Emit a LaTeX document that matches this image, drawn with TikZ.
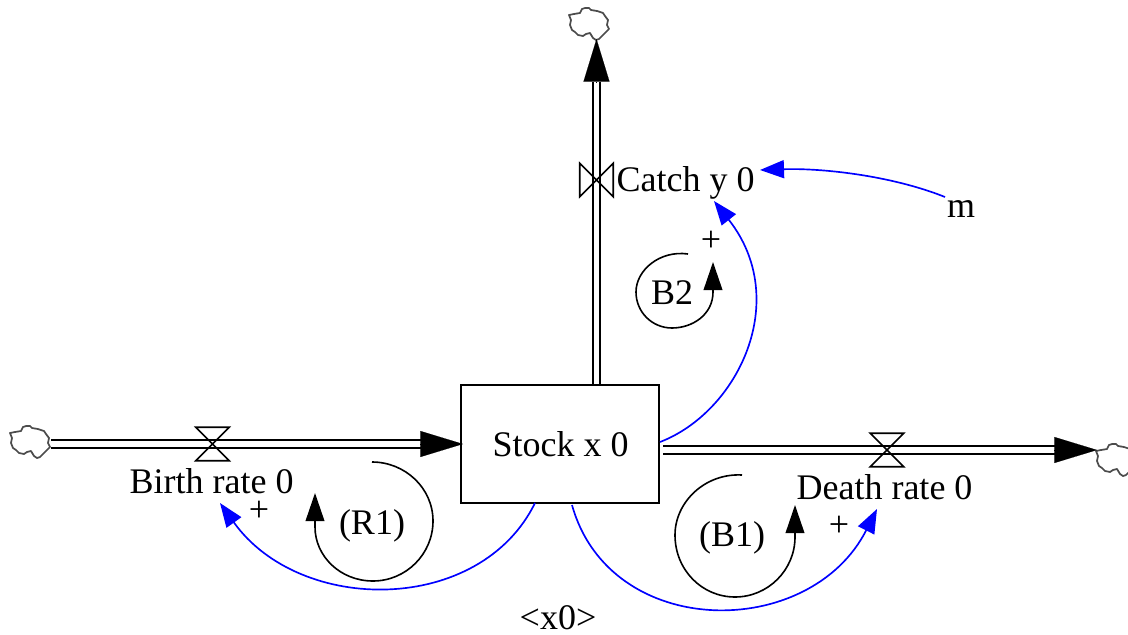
\documentclass[tikz,border=0pt]{standalone}
\usepackage{fontspec}
\setmainfont{Liberation Serif}
\usetikzlibrary{arrows.meta,calc}
\tikzset{
  x=0.75pt,y=-0.75pt,
  lbl/.style={font=\fontsize{27}{30}\selectfont,inner sep=0pt,anchor=base,text=black},
  stockbox/.style={draw=black,line width=1.4pt,minimum width=148.5pt,minimum height=88.5pt,inner sep=0pt,font=\fontsize{27}{30}\selectfont},
  pipe/.style={draw=black,line width=1.4pt,double=white,double distance=4.4pt},
  fliptip/.style={-{Triangle[length=32pt,width=19.5pt]},draw=black,line width=0.1pt},
  valvebase/.style={inner sep=0pt,minimum width=24.75pt,minimum height=24.75pt},
  valveh/.style={valvebase,append after command={
     \pgfextra{\draw[line width=1.2pt,line join=miter] (\tikzlastnode.north west)--(\tikzlastnode.north east)--(\tikzlastnode.south west)--(\tikzlastnode.south east)--cycle;}}},
  valvev/.style={valvebase,append after command={
     \pgfextra{\draw[line width=1.2pt,line join=miter] (\tikzlastnode.north west)--(\tikzlastnode.south west)--(\tikzlastnode.north east)--(\tikzlastnode.south east)--cycle;}}},
  link/.style={draw={rgb,255:red,0;green,0;blue,255},line width=1.25pt,-{Triangle[length=18pt,width=13.5pt]}},
  loopar/.style={draw=black,line width=1.2pt,-{Triangle[length=21pt,width=14pt]}},
  cloudline/.style={draw=black!70,line width=1.3pt,line join=round},
  pics/cloudshape/.style={code={
    \draw[cloudline] (27,33)--(24,31)--(21,26)--(17,27)--(14,29)--(9,28)--(6,25)--(3,23)--(1,18)--(2,13)--(0,8)--(5,7)--(11,6)--(13,2)--(16,1)--(20,1)--(22,3)--(28,4)--(34,6)--(36,9)--(39,13)--(38,18)--(40,22)--(37,25)--(34,28)--(30,32)--cycle;
  }}
}
\begin{document}
\begin{tikzpicture}
\useasboundingbox (0,0) rectangle (1128,635);
% clouds
\pic at (569,7) {cloudshape};
\pic at (10,425) {cloudshape};
\pic at (1096,443) {cloudshape};
\coordinate (cloudT) at (596.5,39);
\coordinate (cloudL) at (51,444);
\coordinate (cloudR) at (1097,450);
% stock
\node[stockbox] (stock) at (560,444) {\hspace{1pt}Stock x 0};
% pipes
\coordinate (p1) at (422,444);
\coordinate (p2) at (1056,450);
\coordinate (p3) at (596.5,82);
\coordinate (s1) at (463,444);
\coordinate (s2) at (663,450);
\draw[pipe] (cloudL) -- (p1);
\draw[pipe] (s2) -- (p2);
\draw[pipe] (stock.north -| p3) -- (p3);
\draw[fliptip] (p1) -- (s1);
\draw[fliptip] (p2) -- (cloudR);
\draw[fliptip] ($(p3)+(0,1)$) -- (cloudT);
% valves
\node[valveh] (v1) at (212.5,444) {};
\node[valveh] (v2) at (887,450) {};
\node[valvev] (v3) at (596.5,180) {};
% labels
\node[lbl] (birth) at (211.5,493) {Birth rate 0};
\node[lbl] (death) at (884.5,499) {Death rate 0};
\node[lbl] (catch) at (685.5,191) {Catch y 0};
\node[lbl] (m) at (961,217) {m};
\node[lbl] (x0) at (558,629) {<x0>};
\node[lbl] (pa) at (711,251) {+};
\node[lbl] (pb) at (259,521) {+};
\node[lbl] (pc) at (839,536) {+};
\node[lbl] (lb2) at (672,304) {B2};
\node[lbl] (lr1) at (372,534) {(R1)};
\node[lbl] (lb1) at (732,546) {(B1)};
% influence links
\coordinate (tCatchA) at (714,201);
\coordinate (tCatchB) at (760,170);
\coordinate (tBirth) at (220,503);
\coordinate (tDeath) at (877,509);
\coordinate (fS1) at (660,442);
\coordinate (fS2) at (535,503);
\coordinate (fS3) at (572,505);
\coordinate (fM) at (945,197);
\draw[link] (fS1) .. controls (738,412) and (792,300) .. (tCatchA);
\draw[link] (fM) .. controls (890,175) and (820,168) .. (tCatchB);
\draw[link] (fS2) .. controls (480,615) and (300,615) .. (tBirth);
\draw[link] (fS3) .. controls (610,641) and (810,641) .. (tDeath);
% loop arrows
\coordinate (r1s) at (372,462);
\coordinate (r1e) at (315,493);
\draw[loopar] (r1s) .. controls (405,462) and (433,488) .. (433,521)
  .. controls (433,554) and (406,581) .. (373,581)
  .. controls (340,581) and (315,556) .. (315,527) -- (r1e);
\coordinate (b1s) at (742,475);
\coordinate (b1e) at (795,505);
\draw[loopar] (b1s) .. controls (705,473) and (675,502) .. (675,535)
  .. controls (675,570) and (702,597) .. (735,597)
  .. controls (768,597) and (795,570) .. (795,537) -- (b1e);
\coordinate (b2s) at (688,254);
\coordinate (b2e) at (713,262);
\draw[loopar] (b2s) .. controls (660,250) and (636,270) .. (636,292)
  .. controls (636,312) and (652,328) .. (672,328)
  .. controls (692,328) and (713,315) .. (713,292) -- (b2e);
\end{tikzpicture}
\end{document}
